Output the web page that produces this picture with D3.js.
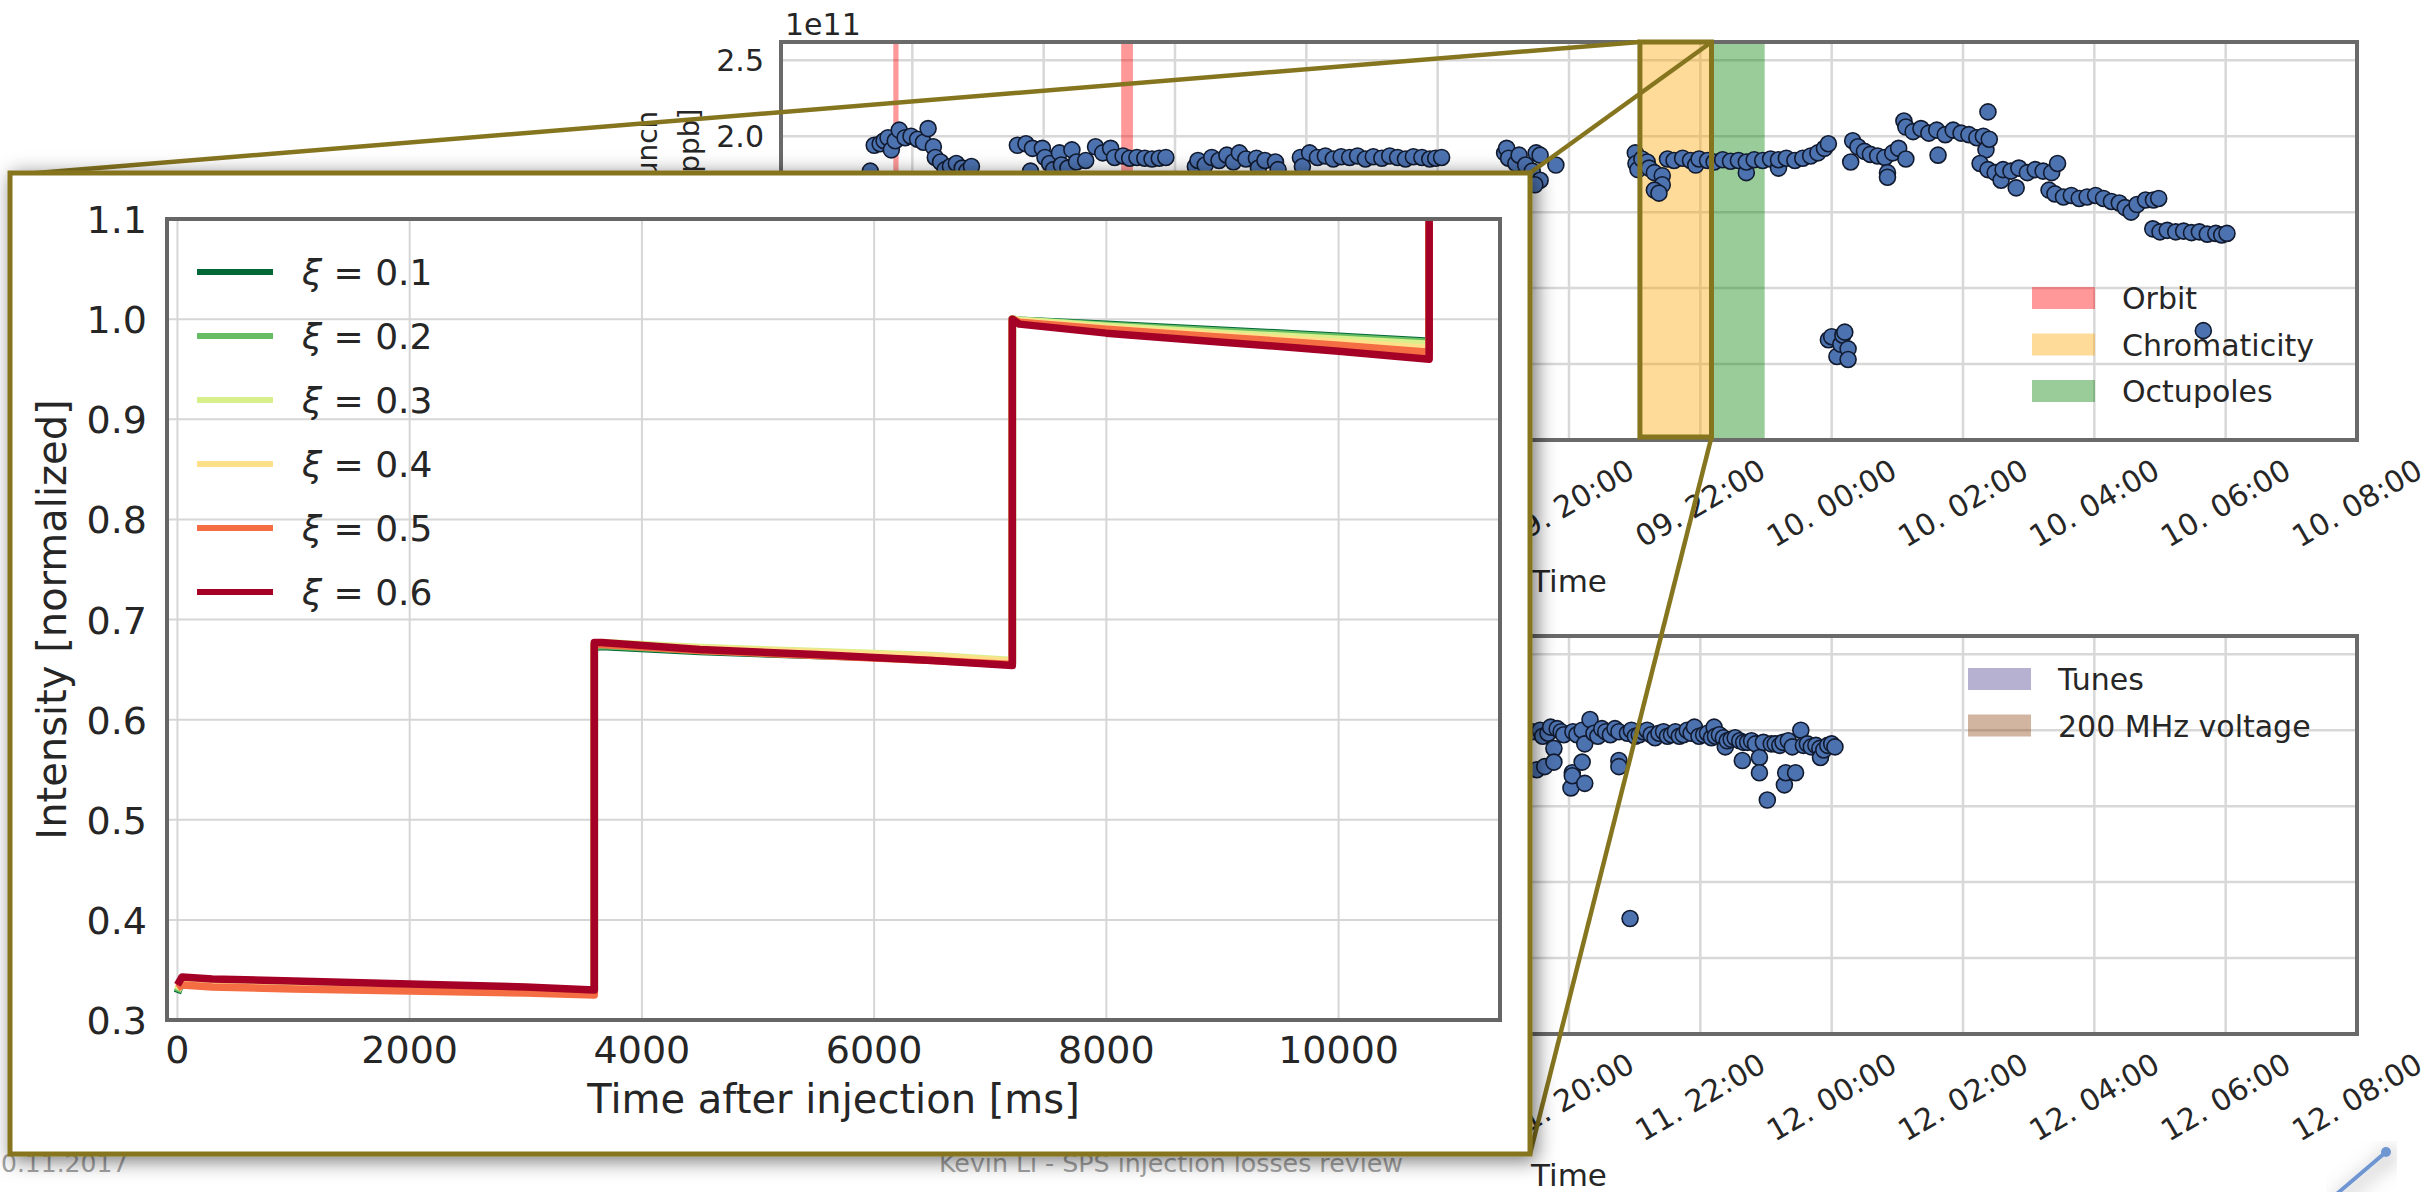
<!DOCTYPE html>
<html><head><meta charset="utf-8">
<script src="https://cdn.jsdelivr.net/npm/d3@7"></script>
<style>
body{margin:0;background:#fff;overflow:hidden}
svg{display:block}
text{font-family:"DejaVu Sans",sans-serif;fill:#262626}
</style></head>
<body><svg id="c" width="2435" height="1192"></svg>
<script>
// ---------------- DATA ----------------
// Top panel: bunch intensity (1e11 ppb) vs hours since 2017-10-09 00:00
const topHours = [
 9.36,9.42,9.51,9.57,9.63,9.68,9.74,9.80,9.89,9.98,10.08,10.17,10.24,10.32,10.35,10.43,10.50,10.58,10.67,10.76,10.83,10.90,
 11.60,11.73,11.80,11.83,11.98,12.02,12.09,12.15,12.24,12.27,12.37,12.43,12.50,12.64,12.79,12.90,13.02,13.08,13.21,13.31,13.42,13.54,13.65,13.76,13.86,
 14.31,14.35,14.46,14.56,14.67,14.79,14.89,14.98,15.08,15.24,15.27,15.37,15.53,15.57,
 15.91,15.94,16.05,16.17,16.29,16.41,16.53,16.66,16.78,16.90,17.02,17.15,17.27,17.39,17.51,17.63,17.76,17.88,17.97,18.06,
 19.02,19.05,19.08,19.19,19.24,19.34,19.44,19.50,19.56,19.56,19.48,19.80,
 21.01,21.02,21.05,21.11,21.19,21.22,21.30,21.42,21.42,21.30,21.37,21.50,21.60,21.73,21.85,21.93,21.98,22.11,
 22.21,22.34,22.46,22.58,22.70,22.70,22.82,22.95,23.07,23.19,23.19,23.31,23.44,23.56,23.68,23.79,23.89,23.95,
 23.95,24.00,24.08,24.14,24.17,24.20,24.25,24.25,
 24.29,24.32,24.40,24.50,24.59,24.70,24.81,24.85,24.85,24.93,25.02,25.13,25.10,25.13,25.24,25.36,25.48,25.60,25.62,25.73,25.85,25.97,26.09,26.21,26.31,26.38,26.35,26.40,
 26.26,26.38,26.49,26.58,26.61,26.73,26.81,26.85,26.98,27.10,27.22,27.35,27.44,
 27.31,27.40,27.53,27.65,27.77,27.89,28.02,28.14,28.26,28.38,28.47,28.56,28.65,28.78,28.90,28.98,
 28.89,29.00,29.11,29.24,29.36,29.48,29.60,29.72,29.85,29.94,30.02,
 29.66
];
const topIntensity = [
 1.77,1.94,1.95,1.97,1.99,1.91,1.97,2.04,1.99,2.00,1.98,1.96,2.05,1.93,1.86,1.83,1.78,1.80,1.82,1.79,1.77,1.80,
 1.94,1.95,1.77,1.92,1.92,1.86,1.82,1.78,1.89,1.81,1.79,1.91,1.83,1.84,1.93,1.89,1.92,1.86,1.87,1.855,1.86,1.855,1.85,1.855,1.86,
 1.80,1.84,1.81,1.86,1.84,1.875,1.83,1.89,1.85,1.855,1.79,1.84,1.83,1.78,
 1.86,1.80,1.89,1.86,1.87,1.85,1.865,1.86,1.87,1.85,1.865,1.855,1.87,1.86,1.85,1.865,1.86,1.85,1.855,1.86,
 1.89,1.92,1.855,1.82,1.875,1.81,1.77,1.89,1.875,1.71,1.68,1.81,
 1.89,1.82,1.78,1.85,1.83,1.79,1.76,1.74,1.68,1.645,1.625,1.85,1.84,1.855,1.84,1.81,1.85,1.84,
 1.83,1.845,1.835,1.84,1.76,1.83,1.845,1.84,1.85,1.79,1.845,1.855,1.84,1.855,1.87,1.89,1.92,1.95,
 0.66,0.68,0.55,0.63,0.69,0.71,0.60,0.53,
 1.83,1.97,1.93,1.90,1.88,1.87,1.86,1.76,1.73,1.89,1.92,1.85,2.10,2.06,2.03,2.05,2.02,2.04,1.875,2.01,2.04,2.02,2.01,1.99,2.00,2.16,1.91,1.98,
 1.82,1.78,1.76,1.71,1.78,1.77,1.66,1.79,1.76,1.78,1.77,1.76,1.82,
 1.645,1.62,1.60,1.61,1.59,1.60,1.61,1.59,1.57,1.56,1.53,1.50,1.55,1.58,1.58,1.59,
 1.39,1.37,1.38,1.37,1.375,1.365,1.37,1.355,1.36,1.35,1.36,
 0.72
];
// Bottom panel: hours since 2017-10-11 00:00
const botHours = [
 19.44,19.51,19.56,19.60,19.63,19.68,19.72,19.77,19.77,19.82,19.88,19.92,20.03,20.05,20.05,20.06,20.12,20.20,20.20,20.24,20.24,20.32,20.38,20.44,20.50,20.56,20.63,20.70,
 20.76,20.76,20.76,20.89,20.93,20.95,21.01,21.07,21.13,21.19,21.25,21.31,21.37,21.44,21.50,21.56,21.62,21.68,21.74,21.80,21.86,21.91,21.98,22.05,22.11,22.17,
 22.21,22.23,22.29,22.35,22.38,22.41,22.47,22.53,22.60,22.64,22.66,22.72,22.78,22.84,22.90,22.90,22.96,23.02,23.08,23.14,23.21,23.26,23.28,23.30,23.34,23.40,
 23.45,23.53,23.57,23.63,23.69,23.76,23.82,23.83,23.88,23.94,24.00,24.05
];
const botIntensity = [
 1.99,1.74,2.00,1.96,1.76,1.98,2.02,1.88,1.79,2.01,1.99,1.97,1.62,1.72,1.70,1.99,1.97,1.79,2.00,1.91,1.65,2.07,1.98,1.96,2.01,1.99,1.97,2.01,
 1.80,1.76,1.99,1.98,0.76,2.00,1.96,1.97,1.99,2.00,1.97,1.95,1.98,1.99,1.96,1.97,1.99,1.96,1.97,2.00,1.98,2.02,1.96,1.97,1.98,1.95,
 2.02,1.96,1.97,1.95,1.89,1.93,1.94,1.95,1.93,1.80,1.92,1.92,1.93,1.91,1.82,1.72,1.92,1.54,1.91,1.91,1.90,1.92,1.64,1.72,1.93,1.89,
 1.72,2.00,1.90,1.91,1.89,1.90,1.88,1.82,1.87,1.90,1.91,1.89
];
// Shaded intervals (hours since 2017-10-09 00:00)
const orbitSpans = [[9.71,9.79],[13.18,13.36]];
const chromaSpans = [[21.08,22.17]];
const octuSpans = [[22.17,22.98]];
const topLegend = ["Orbit","Chromaticity","Octupoles"];
const botLegend = ["Tunes","200 MHz voltage"];
const yTickVals = [0,0.5,1.0,1.5,2.0,2.5];

// Inset: normalized intensity vs time after injection
const injTime = [0,40,300,1000,2000,3000,3590,3590,3650,4500,5500,6500,7190,7190,7250,8000,9000,10000,10780,10780];
const xi01 = [0.327,0.340,0.338,0.336,0.333,0.331,0.329,0.672,0.673,0.668,0.664,0.660,0.656,1.000,0.999,0.995,0.989,0.983,0.978,1.15];
const xi02 = [0.328,0.340,0.338,0.336,0.333,0.331,0.329,0.673,0.674,0.669,0.665,0.661,0.657,1.000,0.999,0.994,0.988,0.982,0.977,1.15];
const xi03 = [0.330,0.339,0.337,0.335,0.332,0.330,0.328,0.676,0.677,0.672,0.668,0.664,0.659,1.000,0.999,0.993,0.986,0.980,0.975,1.15];
const xi04 = [0.331,0.336,0.334,0.332,0.330,0.328,0.326,0.675,0.676,0.671,0.667,0.663,0.658,1.000,0.998,0.991,0.984,0.977,0.971,1.15];
const xi05 = [0.332,0.335,0.333,0.331,0.329,0.327,0.325,0.675,0.675,0.669,0.664,0.659,0.655,1.000,0.997,0.990,0.982,0.974,0.967,1.15];
const xi06 = [0.335,0.343,0.341,0.339,0.336,0.333,0.330,0.677,0.677,0.670,0.665,0.659,0.654,1.000,0.995,0.986,0.977,0.968,0.960,1.15];
const xiLabels = ["0.1","0.2","0.3","0.4","0.5","0.6"];
const xiColors = ["#006837","#66bd63","#d9ef8b","#fee08b","#f46d43","#a50026"];
const insetXTicks = [0,2000,4000,6000,8000,10000];
const insetYTicks = [0.3,0.4,0.5,0.6,0.7,0.8,0.9,1.0,1.1];

// ---------------- DRAW ----------------
const svg = d3.select("#c");
const defs = svg.append("defs");
const f = defs.append("filter").attr("id","sh").attr("x","-10%").attr("y","-10%").attr("width","120%").attr("height","120%");
f.append("feDropShadow").attr("dx",4).attr("dy",4).attr("stdDeviation",10).attr("flood-color","#000").attr("flood-opacity",0.55);
const OLIVE = "#86751f";
const PL = 781, PR = 2357, YMAX = 2.62;
const hd = (base,h) => new Date(base.getTime() + h*3600e3);
const fmt = d3.timeFormat("%d. %H:%M");

function panel(cfg){
  const g = svg.append("g");
  const x = d3.scaleTime().domain([cfg.start,cfg.end]).range([PL,PR]);
  const y = d3.scaleLinear().domain([0,YMAX]).range([cfg.y0,cfg.y1]);
  const xt = x.ticks(d3.timeHour.every(2));
  g.selectAll(".vg").data(xt).join("line")
    .attr("x1",d=>x(d)).attr("x2",d=>x(d)).attr("y1",cfg.y1).attr("y2",cfg.y0)
    .attr("stroke","#d8d8d8").attr("stroke-width",2.5);
  g.selectAll(".hg").data(yTickVals).join("line")
    .attr("x1",PL).attr("x2",PR).attr("y1",d=>y(d)).attr("y2",d=>y(d))
    .attr("stroke","#d8d8d8").attr("stroke-width",2.5);
  cfg.bands.forEach(b => b.spans.forEach(s => {
    g.append("rect").attr("x",x(hd(cfg.base,s[0]))).attr("y",cfg.y1)
     .attr("width",x(hd(cfg.base,s[1]))-x(hd(cfg.base,s[0]))).attr("height",cfg.y0-cfg.y1)
     .attr("fill",b.color).attr("fill-opacity",0.4);
  }));
  const pts = cfg.hours.map((h,i)=>[h,cfg.vals[i]]);
  g.selectAll("circle").data(pts).join("circle")
    .attr("cx",d=>x(hd(cfg.base,d[0]))).attr("cy",d=>y(d[1])).attr("r",8)
    .attr("fill","#4c72b0").attr("stroke","#111a2e").attr("stroke-width",1.6);
  g.append("rect").attr("x",PL).attr("y",cfg.y1).attr("width",PR-PL).attr("height",cfg.y0-cfg.y1)
    .attr("fill","none").attr("stroke","#6a6a6a").attr("stroke-width",4);
  xt.forEach(t => g.append("text")
    .attr("transform",`translate(${x(t)},${cfg.y0+63}) rotate(-30)`)
    .attr("text-anchor","middle").attr("dominant-baseline","central")
    .attr("font-size",30).text(fmt(t)));
  yTickVals.forEach(v => g.append("text").attr("x",764).attr("y",y(v)+11)
    .attr("text-anchor","end").attr("font-size",30).text(v.toFixed(1)));
  g.append("text").attr("x",(PL+PR)/2).attr("y",cfg.y0+152).attr("text-anchor","middle")
    .attr("font-size",31).text("Time");
  cfg.bands.forEach((b,i) => {
    const cy = cfg.legY + i*46.5;
    g.append("rect").attr("x",cfg.legX).attr("y",cy-11).attr("width",63).attr("height",22)
      .attr("fill",b.color).attr("fill-opacity",0.4);
    g.append("text").attr("x",cfg.legX+90).attr("y",cy+11).attr("font-size",30).text(b.name);
  });
  return {x,y,g};
}

const base9 = new Date(2017,9,9,0), base11 = new Date(2017,9,11,0);
const topP = panel({start:hd(base9,8), end:hd(base9,32), base:base9, y0:440, y1:42,
  hours:topHours, vals:topIntensity, legX:2032, legY:298,
  bands:[{name:topLegend[0],color:"#ff0000",spans:orbitSpans},
         {name:topLegend[1],color:"#ffa500",spans:chromaSpans},
         {name:topLegend[2],color:"#008000",spans:octuSpans}]});
topP.g.append("text").attr("x",785).attr("y",35).attr("font-size",30).text("1e11");
const yl = topP.g.append("text").attr("transform","translate(0,247) rotate(-90)").attr("text-anchor","middle").attr("font-size",28);
yl.append("tspan").attr("x",0).attr("y",657).text("Intensity per bunch");
yl.append("tspan").attr("x",0).attr("y",699).text("at flat bottom [ppb]");

const botP = panel({start:hd(base11,8), end:hd(base11,32), base:base11, y0:1034, y1:636,
  hours:botHours, vals:botIntensity, legX:1968, legY:679,
  bands:[{name:botLegend[0],color:"#483d8b",spans:[]},
         {name:botLegend[1],color:"#8b4513",spans:[]}]});

// footer
svg.append("text").attr("x",1).attr("y",1172)
  .attr("font-family","DejaVu Sans Condensed").attr("font-size",25).style("fill","#a3a3a3").text("0.11.2017");
svg.append("text").attr("x",939).attr("y",1172).attr("textLength",464).attr("lengthAdjust","spacingAndGlyphs")
  .attr("font-family","DejaVu Sans Condensed").attr("font-size",25).style("fill","#a3a3a3")
  .text("Kevin Li - SPS injection losses review");

// zoom box + connectors
const zx0 = topP.x(hd(base9,chromaSpans[0][0])), zx1 = topP.x(hd(base9,chromaSpans[0][1]));
svg.append("rect").attr("x",zx0).attr("y",42).attr("width",zx1-zx0).attr("height",395)
  .attr("fill","none").attr("stroke",OLIVE).attr("stroke-width",5);
const IX0=10, IY0=173, IX1=1530, IY1=1154;
[[zx0,42,IX0+2,IY0+2],[zx1,42,IX1,IY0],[zx1,437,IX1,IY1]].forEach(l =>
  svg.append("line").attr("x1",l[0]).attr("y1",l[1]).attr("x2",l[2]).attr("y2",l[3])
    .attr("stroke",OLIVE).attr("stroke-width",4.5));

// inset
const ig = svg.append("g");
ig.append("rect").attr("x",IX0).attr("y",IY0).attr("width",IX1-IX0).attr("height",IY1-IY0)
  .attr("fill","#fff").attr("stroke",OLIVE).attr("stroke-width",5).attr("filter","url(#sh)");
const IL=167, IR=1500, IT=219, IB=1020;
const ix = d3.scaleLinear().domain([-90,11390]).range([IL,IR]);
const iy = d3.scaleLinear().domain([0.3,1.1]).range([IB,IT]);
defs.append("clipPath").attr("id","ic").append("rect").attr("x",IL).attr("y",IT).attr("width",IR-IL).attr("height",IB-IT);
ig.selectAll(".ivg").data(insetXTicks).join("line").attr("x1",d=>ix(d)).attr("x2",d=>ix(d))
  .attr("y1",IT).attr("y2",IB).attr("stroke","#d6d6d6").attr("stroke-width",2);
ig.selectAll(".ihg").data(insetYTicks).join("line").attr("x1",IL).attr("x2",IR)
  .attr("y1",d=>iy(d)).attr("y2",d=>iy(d)).attr("stroke","#d6d6d6").attr("stroke-width",2);
const series = [xi01,xi02,xi03,xi04,xi05,xi06];
const line = d3.line().x((d,i)=>ix(injTime[i])).y(d=>iy(d));
const lg = ig.append("g").attr("clip-path","url(#ic)");
series.forEach((s,k) => lg.append("path").attr("d",line(s)).attr("fill","none")
  .attr("stroke",xiColors[k]).attr("stroke-width",7.5).attr("stroke-linejoin","round"));
ig.append("rect").attr("x",IL).attr("y",IT).attr("width",IR-IL).attr("height",IB-IT)
  .attr("fill","none").attr("stroke","#666").attr("stroke-width",4);
insetXTicks.forEach(v => ig.append("text").attr("x",ix(v)).attr("y",IB+43).attr("text-anchor","middle")
  .attr("font-size",38).text(v));
insetYTicks.forEach(v => ig.append("text").attr("x",147).attr("y",iy(v)+14).attr("text-anchor","end")
  .attr("font-size",38).text(v.toFixed(1)));
ig.append("text").attr("x",(IL+IR)/2).attr("y",1113).attr("text-anchor","middle").attr("font-size",40)
  .text("Time after injection [ms]");
ig.append("text").attr("transform",`translate(66,${(IT+IB)/2}) rotate(-90)`).attr("text-anchor","middle")
  .attr("font-size",40).text("Intensity [normalized]");
xiLabels.forEach((lab,k) => {
  const cy = 272 + k*64;
  ig.append("line").attr("x1",197).attr("x2",273).attr("y1",cy).attr("y2",cy)
    .attr("stroke",xiColors[k]).attr("stroke-width",6);
  const t = ig.append("text").attr("x",302).attr("y",cy+13).attr("font-size",36);
  t.append("tspan").attr("font-style","italic").text("ξ");
  t.append("tspan").text(" = " + lab);
});

// slide decoration
const deco = svg.append("g").attr("filter","url(#sh)");
deco.append("line").attr("x1",2386).attr("y1",1152).attr("x2",2332).attr("y2",1198)
  .attr("stroke","#6f96d2").attr("stroke-width",4).attr("stroke-linecap","round");
deco.append("circle").attr("cx",2386).attr("cy",1152).attr("r",5).attr("fill","#6f96d2");
</script></body></html>
